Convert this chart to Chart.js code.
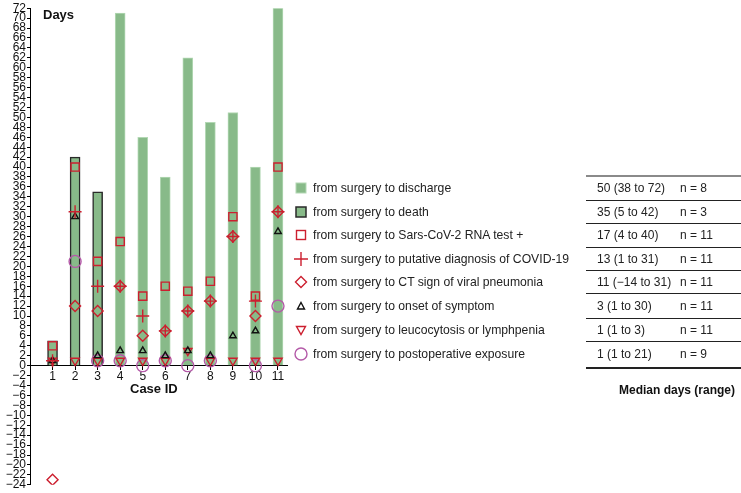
<!DOCTYPE html>
<html>
<head>
<meta charset="utf-8">
<script src="https://cdn.jsdelivr.net/npm/chart.js@4.4.0/dist/chart.umd.min.js"></script>
<style>
  html, body { margin: 0; padding: 0; background: #fff; }
  #wrap { position: relative; width: 741px; height: 493px; font-family: 'Liberation Sans', Arial, sans-serif; color: #222; overflow: hidden; }
  #chart { position: absolute; left: 0; top: 0; }
  .txt { position: absolute; height: 16px; line-height: 16px; font-size: 12px; white-space: nowrap; }
  .bold { font-weight: bold; font-size: 13px; color: #111; }
  .row { position: absolute; left: 293px; height: 16px; display: flex; align-items: center; font-size: 12.2px; white-space: nowrap; }
  .row svg { width: 16px; height: 16px; margin-right: 4px; flex: none; }
  .rule { position: absolute; left: 586px; width: 155px; background: #222; }
</style>
</head>
<body>
<div id="wrap">
  <canvas id="chart" width="741" height="493"></canvas>
  <div class="txt bold" style="left:43px; top:7px;">Days</div>
  <div class="txt bold" style="left:130px; top:381px;">Case ID</div>
  <div class="txt bold" style="left:619px; top:382px; font-size:12px;">Median days (range)</div>
  <div id="legend"></div>
</div>
<script>
const caseIds = [1, 2, 3, 4, 5, 6, 7, 8, 9, 10, 11]
const dischargeDays = [null, null, null, 71, 46, 38, 62, 49, 51, 40, 72]
const deathDays = [5, 42, 35, null, null, null, null, null, null, null, null]
const rnaTestDays = [4, 40, 21, 25, 14, 16, 15, 17, 30, 14, 40]
const diagnosisDays = [1, 31, 16, 16, 10, 7, 11, 13, 26, 13, 31]
const ctSignDays = [-23, 12, 11, 16, 6, 7, 11, 13, 26, 10, 31]
const symptomDays = [1, 30, 2, 3, 3, 2, 3, 2, 6, 7, 27]
const leucocytosisDays = [1, 1, 1, 1, 1, 1, 3, 1, 1, 1, 1]
const exposureDays = [null, 21, 1, 1, 0, 1, 0, 1, null, 0, 12]

const yMin = -24
const yMax = 72
const yStep = 2

const seriesLabels = [
  'from surgery to discharge',
  'from surgery to death',
  'from surgery to Sars-CoV-2 RNA test +',
  'from surgery to putative diagnosis of COVID-19',
  'from surgery to CT sign of viral pneumonia',
  'from surgery to onset of symptom',
  'from surgery to leucocytosis or lymphpenia',
  'from surgery to postoperative exposure',
]
const medianLabels = ['50 (38 to 72)', '35 (5 to 42)', '17 (4 to 40)', '13 (1 to 31)',
  '11 (\u221214 to 31)', '3 (1 to 30)', '1 (1 to 3)', '1 (1 to 21)']
const countLabels = ['n = 8', 'n = 3', 'n = 11', 'n = 11', 'n = 11', 'n = 11', 'n = 11', 'n = 9']

const green = '#88ba89'
const red = '#cc1f2f'
const purple = '#b45aa8'
const black = '#111'

const toPoints = (values) =>
  values.map((v, i) => (v === null ? null : { x: caseIds[i], y: v })).filter(Boolean)

const marker = (label, values, style) => ({
  type: 'scatter',
  label,
  data: toPoints(values),
  backgroundColor: 'transparent',
  borderWidth: 1.4,
  order: 1,
  ...style,
})

new Chart('chart', {
  type: 'bar',
  data: {
    datasets: [
      {
        label: seriesLabels[0],
        data: toPoints(dischargeDays),
        backgroundColor: green,
        borderColor: '#b3d8b4',
        borderWidth: 1,
        barThickness: 10,
        grouped: false,
        order: 10,
      },
      {
        label: seriesLabels[1],
        data: toPoints(deathDays),
        backgroundColor: green,
        borderColor: '#2a2a2a',
        borderWidth: 1.5,
        barThickness: 10,
        grouped: false,
        order: 10,
      },
      marker(seriesLabels[2], rnaTestDays, { pointStyle: 'rect', pointRadius: 5.8, borderColor: red }),
      marker(seriesLabels[3], diagnosisDays, { pointStyle: 'cross', pointRadius: 6.5, borderColor: red }),
      marker(seriesLabels[4], ctSignDays, { pointStyle: 'rectRot', pointRadius: 5.5, borderColor: red }),
      marker(seriesLabels[5], symptomDays, { pointStyle: 'triangle', pointRadius: 3.8, borderColor: black }),
      marker(seriesLabels[6], leucocytosisDays, { pointStyle: 'triangle', pointRotation: 180, pointRadius: 4.8, borderColor: red }),
      marker(seriesLabels[7], exposureDays, { pointStyle: 'circle', pointRadius: 6, borderColor: purple }),
    ],
  },
  options: {
    responsive: false,
    animation: false,
    layout: { padding: { left: 0, top: 7, right: 454, bottom: 8 } },
    plugins: { legend: { display: false }, tooltip: { enabled: false } },
    scales: {
      x: {
        type: 'linear',
        position: { y: 0 },
        offset: false,
        min: 0,
        max: 11.4,
        afterBuildTicks: (scale) => {
          scale.ticks = caseIds.map((v) => ({ value: v }))
        },
        ticks: { color: '#111', font: { family: 'Liberation Sans', size: 12 }, padding: 0, maxRotation: 0 },
        grid: { offset: false, drawOnChartArea: false, tickLength: 4, color: '#000' },
        border: { color: '#000', width: 1 },
      },
      y: {
        min: yMin,
        max: yMax,
        afterFit: (scale) => {
          scale.width = 30
        },
        ticks: {
          stepSize: yStep,
          autoSkip: false,
          color: '#111',
          padding: 1,
          font: { family: 'Liberation Sans', size: 12 },
          callback: (v) => (v < 0 ? '\u2212' + Math.abs(v) : String(v)),
        },
        grid: { drawOnChartArea: false, tickLength: 3, color: '#000' },
        border: { color: '#000', width: 1 },
      },
    },
  },
})

// legend + table of medians
const rowCenters = [188, 212, 235, 259, 282, 306, 330, 354]
const ruleTops = [175, 200, 223, 247, 270, 293, 318, 341, 367]
const icons = [
  `<rect x="3" y="3" width="10" height="10" fill="${green}" stroke="#b3d8b4" stroke-width="1"/>`,
  `<rect x="3" y="3" width="10" height="10" fill="${green}" stroke="#2a2a2a" stroke-width="1.5"/>`,
  `<rect x="3.5" y="3.5" width="9" height="9" fill="none" stroke="${red}" stroke-width="1.4"/>`,
  `<path d="M1 8H15M8 1V15" stroke="${red}" stroke-width="1.4"/>`,
  `<path d="M8 2.5L13.5 8L8 13.5L2.5 8Z" fill="none" stroke="${red}" stroke-width="1.4"/>`,
  `<path d="M8 4.5L11.5 11H4.5Z" fill="none" stroke="${black}" stroke-width="1.4"/>`,
  `<path d="M3.5 4.5H12.5L8 12.5Z" fill="none" stroke="${red}" stroke-width="1.4"/>`,
  `<circle cx="8" cy="8" r="6" fill="none" stroke="${purple}" stroke-width="1.4"/>`,
]

let html = ''
seriesLabels.forEach((label, i) => {
  const top = rowCenters[i] - 8
  html += `<div class="row" style="top:${top}px"><svg viewBox="0 0 16 16">${icons[i]}</svg>${label}</div>`
  html += `<div class="txt" style="left:597px; top:${top}px">${medianLabels[i]}</div>`
  html += `<div class="txt" style="left:680px; top:${top}px">${countLabels[i]}</div>`
})
ruleTops.forEach((t, i) => {
  const first = i === 0
  const last = i === ruleTops.length - 1
  const h = first ? 2 : last ? 1.5 : 1
  const bg = first ? '#8a8a8a' : '#222'
  html += `<div class="rule" style="top:${t}px; height:${h}px; background:${bg}"></div>`
})
document.getElementById('legend').innerHTML = html
</script>
</body>
</html>
